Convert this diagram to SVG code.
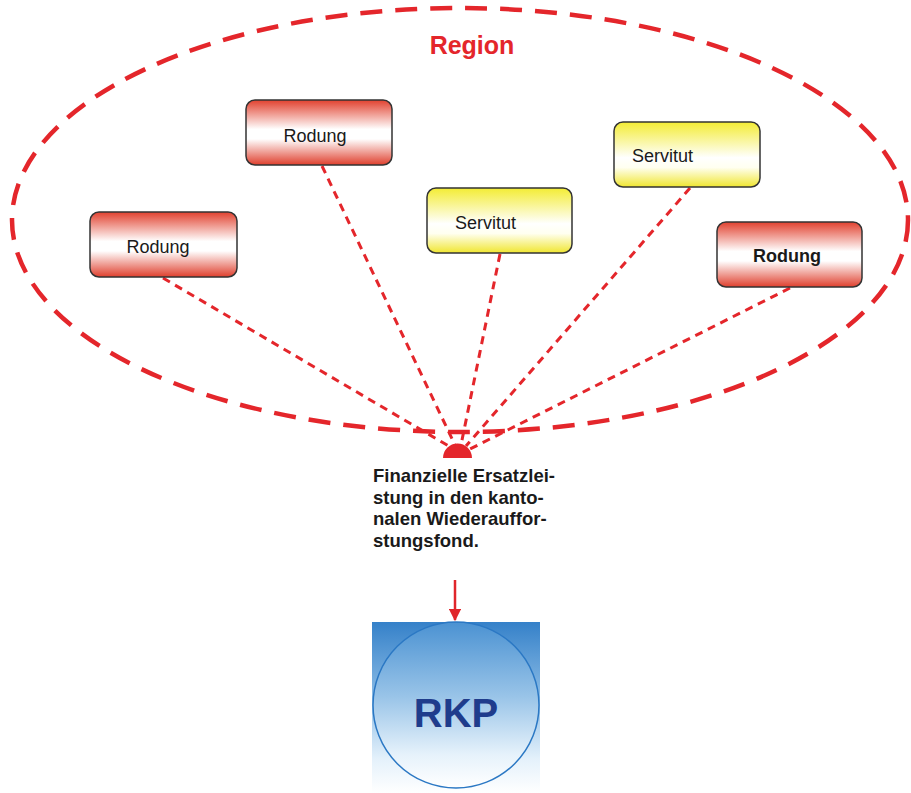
<svg xmlns="http://www.w3.org/2000/svg" width="911" height="793" viewBox="0 0 911 793">
<defs>
<linearGradient id="gRed" x1="0" y1="0" x2="0" y2="1">
<stop offset="0" stop-color="#e1412f"/>
<stop offset="0.45" stop-color="#ffffff"/>
<stop offset="0.6" stop-color="#ffffff"/>
<stop offset="1" stop-color="#df3f2d"/>
</linearGradient>
<linearGradient id="gYel" x1="0" y1="0" x2="0" y2="1">
<stop offset="0" stop-color="#f3ec34"/>
<stop offset="0.55" stop-color="#ffffff"/>
<stop offset="0.7" stop-color="#fffff0"/>
<stop offset="1" stop-color="#f0e630"/>
</linearGradient>
<linearGradient id="gBlue" x1="0" y1="0" x2="0" y2="1">
<stop offset="0" stop-color="#3581c9"/>
<stop offset="0.45" stop-color="#8dbde6"/>
<stop offset="0.8" stop-color="#e4f1fb"/>
<stop offset="1" stop-color="#ffffff"/>
</linearGradient>
<linearGradient id="gBlueIn" x1="0" y1="0" x2="0" y2="1">
<stop offset="0" stop-color="#4b92d2"/>
<stop offset="0.45" stop-color="#99c4e8"/>
<stop offset="0.8" stop-color="#e6f2fb"/>
<stop offset="1" stop-color="#ffffff"/>
</linearGradient>
<marker id="arr" viewBox="0 0 10 10" refX="9" refY="5" markerWidth="5" markerHeight="5" orient="auto">
<path d="M0,0 L10,5 L0,10 z" fill="#e0262b"/>
</marker>
<style>
.box{stroke:#333;stroke-width:1.5}
.lbl{font-family:"Liberation Sans",Arial,sans-serif;font-size:18px;fill:#1a1a1a}
.con{stroke:#e4262b;stroke-width:3;stroke-dasharray:8 6;fill:none}
</style>
</defs>
<rect width="911" height="793" fill="#ffffff"/>
<g id="region">
<ellipse cx="460" cy="220" rx="448" ry="212" fill="none" stroke="#e4262b" stroke-width="4.5" stroke-dasharray="22 13"/>
<text x="472" y="54" text-anchor="middle" font-family="Liberation Sans,Arial,sans-serif" font-weight="bold" font-size="25" fill="#e4262b">Region</text>
</g>
<g id="connectors">
<line class="con" x1="163" y1="278" x2="452" y2="448"/>
<line class="con" x1="322" y1="166" x2="455" y2="445"/>
<line class="con" x1="500" y1="254" x2="461" y2="445"/>
<line class="con" x1="690" y1="188" x2="466" y2="446"/>
<line class="con" x1="790" y1="288" x2="470" y2="449"/>
<path d="M443,458 A14.5,14.5 0 0 1 472,458 z" fill="#e4262b"/>
<line x1="455" y1="580" x2="455" y2="620" stroke="#e0262b" stroke-width="2.5" marker-end="url(#arr)"/>
</g>
<g id="rodung1">
<rect class="box" x="246" y="100" width="146" height="65" rx="9" fill="url(#gRed)"/>
<text class="lbl" x="315" y="142" text-anchor="middle">Rodung</text>
</g>
<g id="rodung2">
<rect class="box" x="90" y="212" width="147" height="65" rx="9" fill="url(#gRed)"/>
<text class="lbl" x="158" y="253" text-anchor="middle">Rodung</text>
</g>
<g id="servitut1">
<rect class="box" x="427" y="188" width="145" height="65" rx="9" fill="url(#gYel)"/>
<text class="lbl" x="455" y="229">Servitut</text>
</g>
<g id="servitut2">
<rect class="box" x="614" y="122" width="146" height="65" rx="9" fill="url(#gYel)"/>
<text class="lbl" x="632" y="162">Servitut</text>
</g>
<g id="rodung3">
<rect class="box" x="717" y="222" width="145" height="65" rx="9" fill="url(#gRed)"/>
<text class="lbl" x="787" y="262" text-anchor="middle" font-weight="bold">Rodung</text>
</g>
<g id="ersatz">
<text font-family="Liberation Sans,Arial,sans-serif" font-weight="bold" font-size="18.5" fill="#1a1a1a">
<tspan x="373" y="482">Finanzielle Ersatzlei-</tspan>
<tspan x="373" y="504">stung in den kanto-</tspan>
<tspan x="373" y="525">nalen Wiederauffor-</tspan>
<tspan x="373" y="547">stungsfond.</tspan>
</text>
</g>
<g id="rkp">
<rect x="372" y="622" width="168" height="171" fill="url(#gBlue)"/>
<circle cx="456" cy="705" r="83" fill="url(#gBlueIn)" stroke="#2b78c4" stroke-width="1.5"/>
<text x="456" y="727" text-anchor="middle" font-family="Liberation Sans,Arial,sans-serif" font-weight="bold" font-size="40" fill="#1f3c8c">RKP</text>
</g>
</svg>
